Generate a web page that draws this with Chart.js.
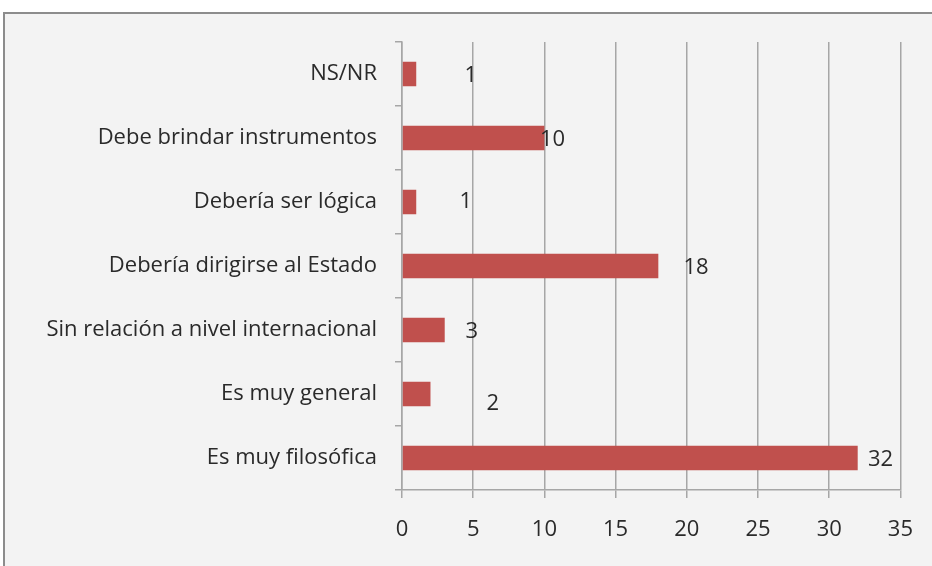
<!DOCTYPE html>
<html>
<head>
<meta charset="utf-8">
<script src="https://cdn.jsdelivr.net/npm/chart.js@4/dist/chart.umd.min.js"></script>
<style>
  html, body { margin: 0; padding: 0; background: #ffffff; overflow: hidden; }
  #frame { position: absolute; left: 3px; top: 12px; width: 960px; height: 600px;
           border: 2px solid #8c8c8c; background: #f3f3f3; }
  #wrap { position: absolute; left: 0; top: 0; width: 932px; height: 566px; }
</style>
</head>
<body>
<div id="frame"></div>
<div id="wrap"><canvas id="c" width="932" height="566"></canvas></div>
<script>
// Data
const categories = [
  "NS/NR",
  "Debe brindar instrumentos",
  "Debería ser lógica",
  "Debería dirigirse al Estado",
  "Sin relación a nivel internacional",
  "Es muy general",
  "Es muy filosófica"
];
const values = [1, 10, 1, 18, 3, 2, 32];
const xTicks = [0, 5, 10, 15, 20, 25, 30, 35];

// Style: where each value label sits (in axis units) and vertical nudge in px
const labelAt = [4.83, 10.57, 4.48, 20.65, 4.9, 6.37, 33.6];
const labelNudge = [2, 2, 0, 2, 2, 10, 2];

const FONT = "'Open Sans', sans-serif";
const FSIZE = 22;
const TEXT = "#2a2a2a";
const GRID = "#a6a6a6";

const valueLabels = {
  id: 'valueLabels',
  afterDatasetsDraw(chart) {
    const ctx = chart.ctx;
    const meta = chart.getDatasetMeta(0);
    const xs = chart.scales.x;
    ctx.save();
    ctx.font = FSIZE + "px " + FONT;
    ctx.fillStyle = TEXT;
    ctx.textAlign = "center";
    ctx.textBaseline = "middle";
    meta.data.forEach((bar, i) => {
      ctx.fillText(String(values[i]), xs.getPixelForValue(labelAt[i]), bar.y + labelNudge[i]);
    });
    ctx.restore();
  }
};

new Chart(document.getElementById('c'), {
  type: 'bar',
  data: {
    labels: categories,
    datasets: [{
      data: values,
      backgroundColor: "#c0504d",
      borderWidth: 0,
      categoryPercentage: 0.38,
      barPercentage: 1
    }]
  },
  options: {
    indexAxis: 'y',
    responsive: false,
    animation: false,
    devicePixelRatio: 1,
    layout: { padding: { left: 0, top: 42, right: 30, bottom: 0 } },
    plugins: { legend: { display: false }, tooltip: { enabled: false } },
    scales: {
      x: {
        type: 'linear',
        min: 0, max: 35,
        afterBuildTicks(scale) { scale.ticks = xTicks.map(v => ({ value: v })); },
        afterFit(scale) { scale.height = 76; },
        grid: { color: GRID, lineWidth: 1.5, tickLength: 8, drawTicks: true },
        border: { display: true, color: GRID, width: 1.5 },
        ticks: { font: { size: FSIZE, family: FONT }, color: TEXT, padding: 19, maxRotation: 0 }
      },
      y: {
        type: 'category',
        offset: true,
        afterFit(scale) { scale.width = 402; },
        grid: { offset: true, drawOnChartArea: false, color: GRID, lineWidth: 1.5, tickLength: 7 },
        border: { display: true, color: GRID, width: 1.5 },
        ticks: { font: { size: FSIZE, family: FONT }, color: TEXT, padding: 18, crossAlign: 'near' }
      }
    }
  },
  plugins: [valueLabels]
});
</script>
</body>
</html>
